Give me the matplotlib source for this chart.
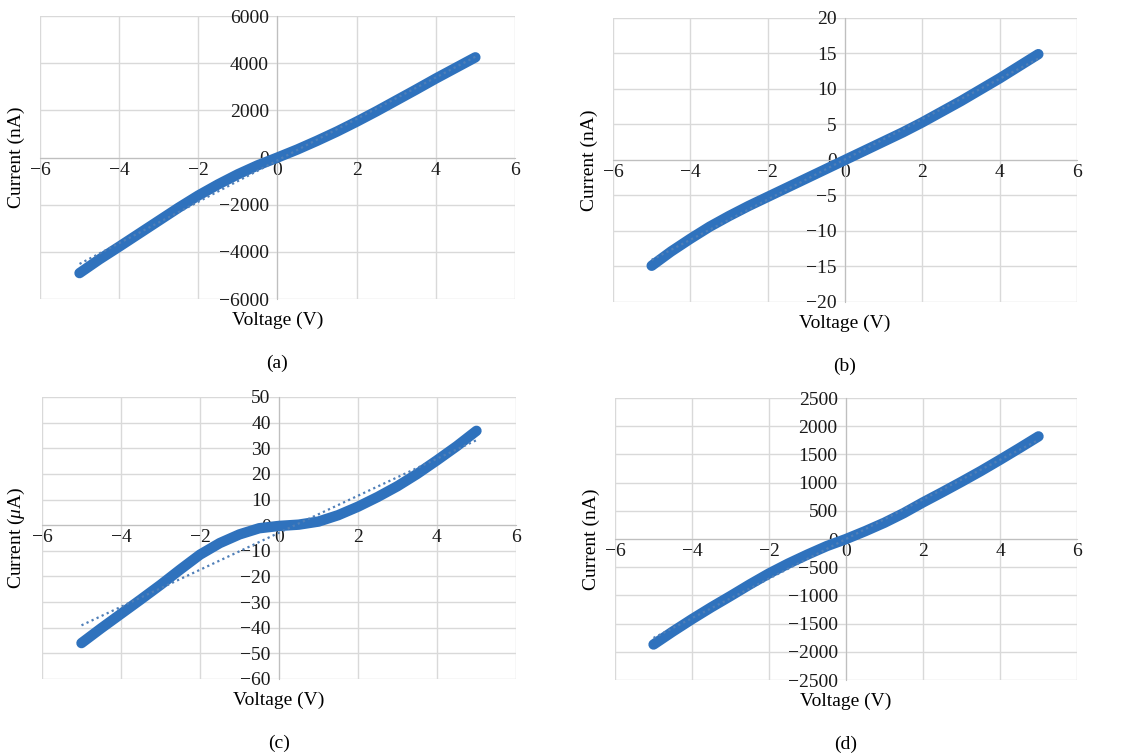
import matplotlib.pyplot as plt
import numpy as np

plt.rcParams['font.family'] = ['Liberation Serif', 'DejaVu Serif']
plt.rcParams['mathtext.fontset'] = 'custom'
plt.rcParams['mathtext.rm'] = 'Liberation Serif'
plt.rcParams['mathtext.it'] = 'Liberation Serif:italic'
plt.rcParams['font.size'] = 14

# sweep voltage (V), same for every sample
voltage = [-5, -4.5, -4, -3.5, -3, -2.5, -2, -1.5, -1, -0.5, 0,
           0.5, 1, 1.5, 2, 2.5, 3, 3.5, 4, 4.5, 5]

# measured currents
current_a = [-4900, -4320, -3780, -3230, -2680, -2130, -1610, -1140, -710, -330, 0,
             340, 710, 1100, 1520, 1960, 2420, 2880, 3350, 3800, 4250]   # nA
current_b = [-14.9, -12.9, -11.1, -9.4, -7.9, -6.5, -5.2, -3.9, -2.6, -1.3, 0,
             1.3, 2.6, 3.9, 5.3, 6.8, 8.3, 9.9, 11.5, 13.2, 14.9]         # nA
current_c = [-46, -40.2, -34.6, -29.0, -23.3, -17.3, -11.5, -7.0, -3.6, -1.2, -0.3,
             0.2, 1.4, 3.9, 7.2, 11.0, 15.2, 20.0, 25.3, 30.8, 36.8]      # uA
current_d = [-1870, -1640, -1420, -1210, -1010, -805, -610, -435, -275, -125, 0,
             140, 290, 460, 650, 830, 1015, 1205, 1405, 1610, 1820]       # nA

ylims = [(-6000, 6000), (-20, 20), (-60, 50), (-2500, 2500)]
ysteps = [2000, 5, 10, 500]
ylabels = ['Current (nA)', 'Current (nA)', 'Current ($\\mu$A)', 'Current (nA)']
captions = ['(a)', '(b)', '(c)', '(d)']
currents = [current_a, current_b, current_c, current_d]

# axes boxes [left, bottom, width, height]
boxes = [[0.0352, 0.6034, 0.4185, 0.3753],
         [0.5401, 0.5995, 0.4088, 0.3767],
         [0.0370, 0.0995, 0.4176, 0.3740],
         [0.5419, 0.0981, 0.4070, 0.3740]]

blue = '#2f72bd'
fig = plt.figure(figsize=(11.35, 7.54), dpi=100)

for k in range(4):
    ax = fig.add_axes(boxes[k])
    v = np.array(voltage)
    cur = np.array(currents[k])
    ax.plot(v, cur, color=blue, lw=7.5, solid_capstyle='round',
            solid_joinstyle='round', zorder=3)
    # linear trendline
    m, b = np.polyfit(v, cur, 1)
    ax.plot([v[0], v[-1]], [m * v[0] + b, m * v[-1] + b], color='#4f7fb8',
            lw=1.6, ls=(0, (1, 1.5)), zorder=4)

    ax.set_xlim(-6, 6)
    ax.set_ylim(*ylims[k])
    ax.set_xticks(np.arange(-6, 7, 2))
    ax.set_yticks(np.arange(ylims[k][0], ylims[k][1] + 1, ysteps[k]))
    ax.grid(True, color='#d9d9d9', lw=1.0)
    ax.set_axisbelow(True)

    for s in ['top', 'right']:
        ax.spines[s].set_visible(False)
    ax.spines['left'].set_position(('data', 0))
    ax.spines['bottom'].set_position(('data', 0))
    ax.spines['left'].set_color('#bfbfbf')
    ax.spines['bottom'].set_color('#bfbfbf')
    ax.tick_params(length=0, labelsize=14, colors='#1a1a1a')
    ax.tick_params(axis='y', pad=6)
    ax.tick_params(axis='x', pad=3)

    ax.set_ylabel(ylabels[k], fontsize=14)
    ax.yaxis.set_label_coords(-0.032, 0.5)
    ax.set_xlabel('Voltage (V)', fontsize=14)
    ax.xaxis.set_label_coords(0.5, -0.045)

    cx = boxes[k][0] + boxes[k][2] / 2
    fig.text(cx, boxes[k][1] - 0.085, captions[k], ha='center', va='center',
             fontsize=14)

fig.savefig('out.png', dpi=100)
